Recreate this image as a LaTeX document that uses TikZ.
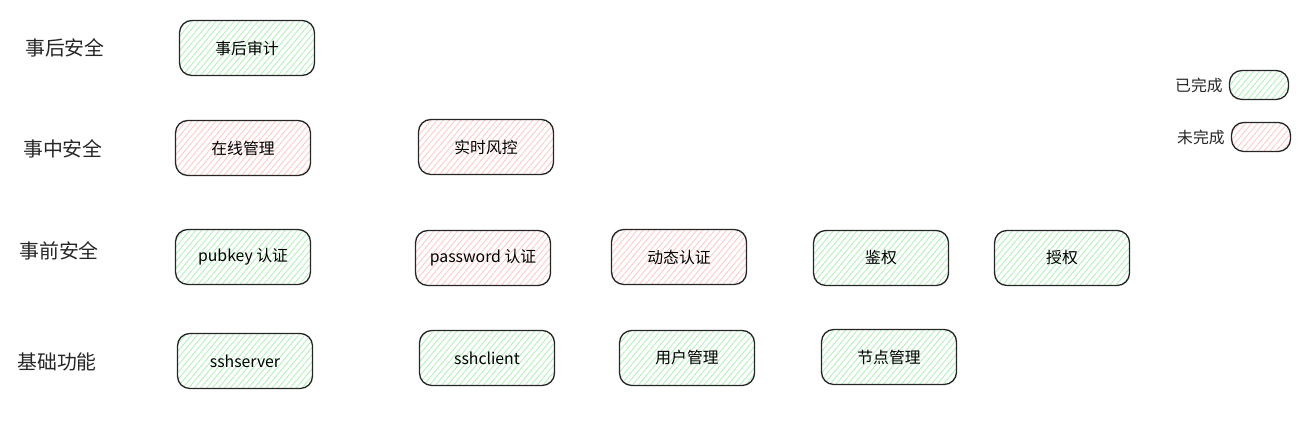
\documentclass[tikz,border=0pt]{standalone}
\usepackage{fontspec}
\setmainfont{Noto Sans CJK SC}
\usepackage{tikz}
\usetikzlibrary{positioning,patterns.meta}
\definecolor{donegreen}{HTML}{b2f0bb}
\definecolor{todored}{HTML}{ffc9c9}

\begin{document}
\begin{tikzpicture}[x=0.02cm,y=-0.02cm,
    box/.style={draw=black!85,line width=0.75pt,rounded corners=7pt,
      minimum width=2.7cm,minimum height=1.1cm,font=\fontsize{9}{11}\selectfont},
    done/.style={box,pattern={Lines[angle=50,distance=2.6pt,line width=0.5pt]},pattern color=donegreen},
    todo/.style={box,pattern={Lines[angle=50,distance=2.6pt,line width=0.5pt]},pattern color=todored},
    keydone/.style={done,minimum width=1.18cm,minimum height=0.58cm},
    keytodo/.style={todo,minimum width=1.18cm,minimum height=0.58cm},
    rowlabel/.style={font=\fontsize{11.3}{13}\selectfont,text=black!85},
    keylabel/.style={font=\fontsize{9}{11}\selectfont,text=black!85}]
      \useasboundingbox (0,0) rectangle (1308,421);

      % row labels
      \node[rowlabel] (after) at (65,48) {事后安全};
      \node[rowlabel] (during) at (63,149) {事中安全};
      \node[rowlabel] (before) at (59,251) {事前安全};
      \node[rowlabel] (base) at (57,362) {基础功能};

      % post-event
      \node[done] (audit) at (247,48) {事后审计};

      % in-event
      \node[todo] (online) at (243,148) {在线管理};
      \node[todo] (risk) at (486,147) {实时风控};

      % pre-event
      \node[done] (pubkey) at (243,257) {pubkey 认证};
      \node[todo] (passwd) at (483,258) {password 认证};
      \node[todo] (dynauth) at (679,257) {动态认证};
      \node[done] (authn) at (881,258) {鉴权};
      \node[done] (authz) at (1062,258) {授权};

      % base
      \node[done] (server) at (245,361) {sshserver};
      \node[done] (client) at (487,358) {sshclient};
      \node[done] (users) at (687,358) {用户管理};
      \node[done] (hosts) at (889,357) {节点管理};

      % legend
      \node[keydone] (kdone) at (1259,85) {};
      \node[keytodo] (ktodo) at (1261,137) {};
      \node[keylabel,left=0pt of kdone] (ldone) {已完成};
      \node[keylabel,left=0pt of ktodo] (ltodo) {未完成};
    \end{tikzpicture}
\end{document}
